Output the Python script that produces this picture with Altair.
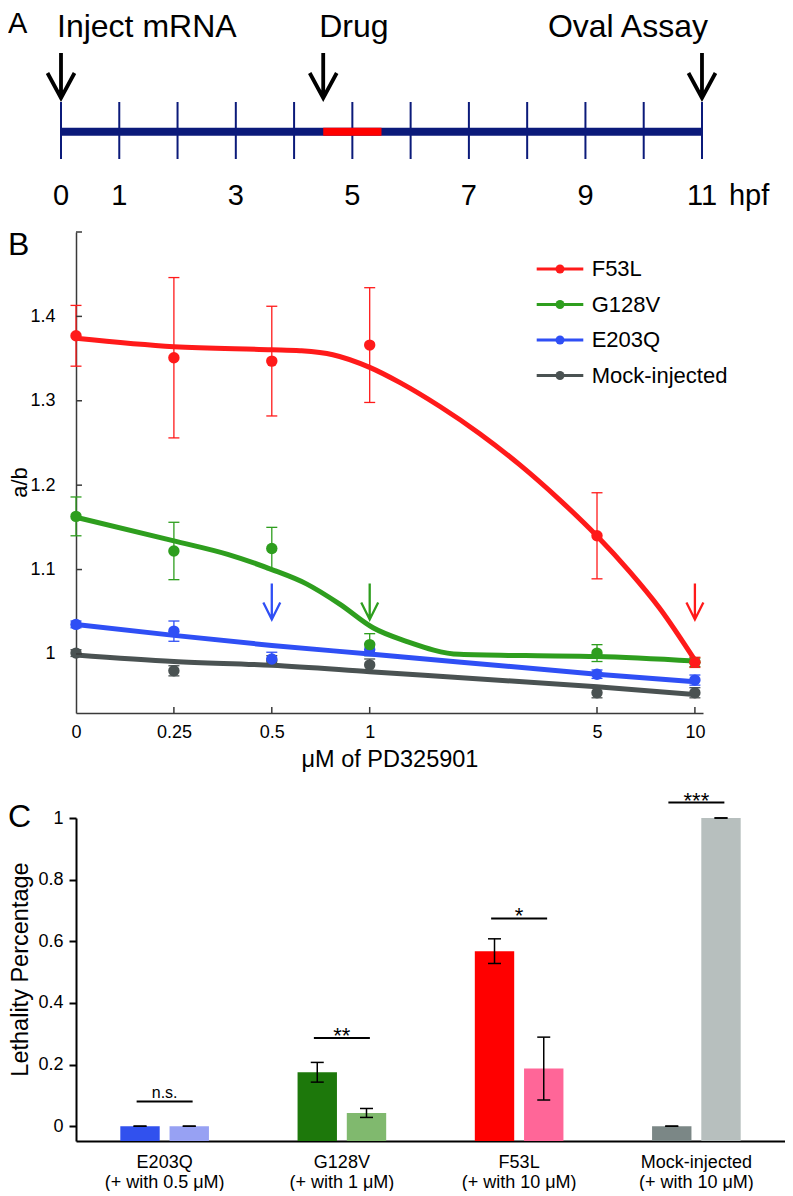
import altair as alt
import pandas as pd

FONT = "Liberation Sans"

# ---------------- Panel A: timeline ----------------
tick_hours = [0, 1, 2, 3, 4, 5, 6, 7, 8, 9, 10, 11]
label_hours = [0, 1, 3, 5, 7, 9, 11]
timeline_span = [0, 11]
drug_window = [4.5, 5.5]
events = ["Inject mRNA", "Drug", "Oval Assay"]
event_hours = [0, 4.5, 11]

# ---------------- Panel B: dose response ----------------
conc = [0, 0.25, 0.5, 1, 5, 10]
series = ["F53L", "G128V", "E203Q", "Mock-injected"]
series_colors = ["#ff1a1a", "#2e9e1e", "#2f4ff5", "#4a5252"]

f53l_mean = [1.377, 1.351, 1.347, 1.366, 1.140, 0.990]
f53l_err = [0.036, 0.095, 0.065, 0.068, 0.051, 0.006]
g128v_mean = [1.163, 1.122, 1.125, 1.011, 1.001, 0.990]
g128v_err = [0.023, 0.034, 0.025, 0.013, 0.010, 0.005]
e203q_mean = [1.035, 1.027, 0.994, 1.005, 0.976, 0.969]
e203q_err = [0.004, 0.012, 0.008, 0.007, 0.005, 0.006]
mock_mean = [1.001, 0.980, 0.992, 0.987, 0.954, 0.954]
mock_err = [0.004, 0.006, 0.006, 0.007, 0.006, 0.006]

# fitted curves
f53l_fit_x = [0, 0.25, 0.5, 0.61, 0.77, 1.0, 1.24, 1.64, 2.18, 2.89, 3.83, 5, 6.29, 7.78, 10]
f53l_fit_y = [1.374, 1.364, 1.3605, 1.3593, 1.3546, 1.3396, 1.3215, 1.2935, 1.261, 1.2243,
              1.1829, 1.1397, 1.0978, 1.0544, 0.9926]
g128v_fit_x = [0, 0.25, 0.366, 0.5, 0.639, 0.809, 1.024, 1.296, 1.89, 3.01, 5, 10]
g128v_fit_y = [1.162, 1.134, 1.118, 1.100, 1.083, 1.059, 1.031, 1.015, 0.9995, 0.998, 0.997, 0.9916]
e203q_fit_x = [0, 0.25, 0.5, 1, 5, 10]
e203q_fit_y = [1.035, 1.022, 1.010, 1.000, 0.976, 0.967]
mock_fit_x = [0, 0.25, 0.5, 1, 5, 10]
mock_fit_y = [0.9987, 0.991, 0.9865, 0.979, 0.961, 0.952]

arrow_series = ["E203Q", "G128V", "F53L"]
arrow_conc = [0.5, 1, 10]

bx_ticks = [0.25, 0.5, 1, 5, 10]
by_ticks = [1, 1.1, 1.2, 1.3, 1.4, 1.5]

# ---------------- Panel C: lethality ----------------
groups = ["E203Q", "G128V", "F53L", "Mock-injected"]
doses = ["0.5", "1", "10", "10"]
conditions = ["injected", "with drug"]
lethality_injected = [0.0, 0.175, 0.568, 0.0]
err_injected = [0.0, 0.032, 0.040, 0.0]
lethality_drug = [0.0, 0.043, 0.187, 1.0]
err_drug = [0.0, 0.0145, 0.102, 0.0]
colors_injected = ["#3151ee", "#1d780b", "#ff0000", "#7b8786"]
colors_drug = ["#97a1f3", "#80b96e", "#ff6698", "#b7bfbe"]
sig_labels = ["n.s.", "**", "*", "***"]
sig_level = [0.08, 0.286, 0.674, 1.05]

# =====================================================
NAVY = "#0b1a7a"
AXC = "#3a3a3a"

# ---------- A ----------
A_W, A_H = 630, 200
ax = alt.Scale(domain=[0.2574, 11.069])
ARROW_A = "M0,-1L0,1M-0.6,-0.11L0,1L0.6,-0.11"

def XA(f):
    return alt.X(f, scale=ax, axis=None)

a_ticks = alt.Chart(pd.DataFrame({"h": tick_hours})).mark_rule(
    color=NAVY, strokeWidth=2).encode(x=XA("h:Q"), y=alt.value(94), y2=alt.value(151))
a_line = alt.Chart(pd.DataFrame({"s": [timeline_span[0]], "e": [timeline_span[1]]})).mark_rule(
    color=NAVY, strokeWidth=8).encode(x=XA("s:Q"), x2="e:Q", y=alt.value(123.7))
a_drug = alt.Chart(pd.DataFrame({"s": [drug_window[0]], "e": [drug_window[1]]})).mark_rule(
    color="#ff0000", strokeWidth=8).encode(x=XA("s:Q"), x2="e:Q", y=alt.value(123.7))
ev_df = pd.DataFrame({"h": event_hours, "ev": events})
a_arrows = alt.Chart(ev_df).mark_point(
    shape=ARROW_A, size=2025, filled=False, color="black", strokeWidth=3.8, opacity=1
).encode(x=XA("h:Q"), y=alt.value(67.5))
a_ev_left = alt.Chart(ev_df).transform_filter("datum.h < 10").mark_text(
    align="left", baseline="alphabetic", fontSize=32, dx=-4, color="black"
).encode(x=XA("h:Q"), y=alt.value(29), text="ev:N")
a_ev_right = alt.Chart(ev_df).transform_filter("datum.h >= 10").mark_text(
    align="right", baseline="alphabetic", fontSize=32, dx=6, color="black"
).encode(x=XA("h:Q"), y=alt.value(29), text="ev:N")
a_hlabels = alt.Chart(pd.DataFrame({"h": label_hours})).mark_text(
    align="center", baseline="middle", fontSize=29, color="black"
).encode(x=XA("h:Q"), y=alt.value(188), text=alt.Text("h:Q", format="d"))
a_hpf = alt.Chart(pd.DataFrame({"h": [11], "t": ["hpf"]})).mark_text(
    align="left", baseline="middle", fontSize=29, dx=27, color="black"
).encode(x=XA("h:Q"), y=alt.value(188), text="t:N")
a_letter = alt.Chart(pd.DataFrame({"t": ["A"]})).mark_text(
    align="left", baseline="alphabetic", fontSize=29, color="black"
).encode(x=alt.value(-68), y=alt.value(25), text="t:N")

panelA = alt.layer(a_ticks, a_line, a_drug, a_arrows, a_ev_left, a_ev_right,
                   a_hlabels, a_hpf, a_letter).properties(width=A_W, height=A_H)

# ---------- B ----------
B_W, B_H = 627, 481
bx = alt.Scale(type="log", base=2, domain=[0.125, 10.59])
by = alt.Scale(domain=[0.93, 1.5])
color_b = alt.Scale(domain=series, range=series_colors)

axBx = alt.Axis(values=[0.125, 0.25, 0.5, 1, 5, 10],
                labelExpr="datum.value < 0.2 ? '0' : format(datum.value, '~g')",
                title="μM of PD325901", ticks=False, tickSize=0, labelPadding=10,
                labelFontSize=18, titleFontSize=23.5, titleY=46, titleBaseline="middle",
                domainColor=AXC, domainWidth=1.5, labelColor="black", titleColor="black",
                labelFlush=False, grid=False)
axBy = alt.Axis(values=[1, 1.1, 1.2, 1.3, 1.4],
                labelExpr="format(datum.value, '~g')",
                title="a/b", ticks=False, tickSize=0, labelPadding=21,
                labelFontSize=18, titleFontSize=22, titleX=-57, titleY=250,
                titleBaseline="middle", titleAlign="center",
                domainColor=AXC, domainWidth=1.5, labelColor="black", titleColor="black",
                labelFlush=False, grid=False)

def XB(f):
    return alt.X(f, scale=bx, axis=axBx, title="μM of PD325901")

def YB(f):
    return alt.Y(f, scale=by, axis=axBy, title="a/b")

means = [f53l_mean, g128v_mean, e203q_mean, mock_mean]
errs = [f53l_err, g128v_err, e203q_err, mock_err]
fits = [(f53l_fit_x, f53l_fit_y), (g128v_fit_x, g128v_fit_y),
        (e203q_fit_x, e203q_fit_y), (mock_fit_x, mock_fit_y)]

pt_rows, fit_rows = [], []
for k in reversed(range(len(series))):
    for c, m, e in zip(conc, means[k], errs[k]):
        pt_rows.append({"series": series[k], "conc": c, "mean": m, "lo": m - e, "hi": m + e})
    for c, v in zip(*fits[k]):
        fit_rows.append({"series": series[k], "conc": c, "fit": v})
pt_df = pd.DataFrame(pt_rows)
fit_df = pd.DataFrame(fit_rows)
XPOS = "datum.conc == 0 ? 0.125 : datum.conc"

def CB():
    return alt.Color("series:N", scale=color_b, legend=None)

b_err = alt.Chart(pt_df).transform_calculate(xpos=XPOS).mark_rule(strokeWidth=1.3).encode(
    x=XB("xpos:Q"), y=YB("lo:Q"), y2="hi:Q", color=CB())
b_cap_lo = alt.Chart(pt_df).transform_calculate(xpos=XPOS).mark_tick(
    orient="horizontal", size=11, thickness=1.3, opacity=1).encode(
    x=XB("xpos:Q"), y=YB("lo:Q"), color=CB())
b_cap_hi = alt.Chart(pt_df).transform_calculate(xpos=XPOS).mark_tick(
    orient="horizontal", size=11, thickness=1.3, opacity=1).encode(
    x=XB("xpos:Q"), y=YB("hi:Q"), color=CB())
b_fit = alt.Chart(fit_df).transform_calculate(xpos=XPOS).mark_line(
    strokeWidth=5, interpolate="monotone").encode(
    x=XB("xpos:Q"), y=YB("fit:Q"),
    color=CB(), detail="series:N", order="xpos:Q")
b_pts = alt.Chart(pt_df).transform_calculate(xpos=XPOS).mark_circle(size=130, opacity=1).encode(
    x=XB("xpos:Q"), y=YB("mean:Q"), color=CB())

ARROW_B = "M0,-1L0,1M-0.47,0.06L0,1L0.47,0.06"
b_arrows = alt.Chart(pd.DataFrame({"series": arrow_series, "conc": arrow_conc})).mark_point(
    shape=ARROW_B, size=1296, filled=False, strokeWidth=2.3, opacity=1).encode(
    x=XB("conc:Q"), y=alt.value(369.5), color=CB())

b_xt = alt.Chart(pd.DataFrame({"t": bx_ticks})).mark_rule(color=AXC, strokeWidth=1.5).encode(
    x=XB("t:Q"), y=alt.value(B_H), y2=alt.value(B_H - 6))
b_yt = alt.Chart(pd.DataFrame({"t": by_ticks})).mark_rule(color=AXC, strokeWidth=1.5).encode(
    y=YB("t:Q"), x=alt.value(0), x2=alt.value(6))

b_letter = alt.Chart(pd.DataFrame({"t": ["B"]})).mark_text(
    align="left", baseline="alphabetic", fontSize=32, color="black"
).encode(x=alt.value(-68), y=alt.value(23), text="t:N")

legend_layers = []
for i, (s, col) in enumerate(zip(series, series_colors)):
    yy = 37 + 35.5 * i
    ldf = pd.DataFrame({"series": [s]})
    legend_layers.append(alt.Chart(ldf).mark_rule(color=col, strokeWidth=3).encode(
        x=alt.value(460.7), x2=alt.value(507.3), y=alt.value(yy)))
    legend_layers.append(alt.Chart(ldf).mark_circle(color=col, size=80, opacity=1).encode(
        x=alt.value(484), y=alt.value(yy)))
    legend_layers.append(alt.Chart(ldf).mark_text(
        align="left", baseline="middle", fontSize=22, color="black").encode(
        x=alt.value(515.7), y=alt.value(yy), text="series:N"))

panelB = alt.layer(b_err, b_cap_lo, b_cap_hi, b_fit, b_pts, b_arrows, b_xt, b_yt,
                   b_letter, *legend_layers).properties(width=B_W, height=B_H)

# ---------- C ----------
C_W, C_H = 709, 323
C_FLOOR = -0.048
cy = alt.Scale(domain=[C_FLOOR, 1])
cx = alt.Scale(paddingInner=0.5, paddingOuter=0.25)
glabels = [f"{g}|(+ with {d} μM)" for g, d in zip(groups, doses)]

c_rows = []
keys, key_cols = [], []
for i, g in enumerate(groups):
    for cond, vals, es, cols in ((conditions[0], lethality_injected, err_injected, colors_injected),
                                 (conditions[1], lethality_drug, err_drug, colors_drug)):
        key = f"{g} {cond}"
        keys.append(key)
        key_cols.append(cols[i])
        c_rows.append({"glabel": glabels[i], "cond": cond, "key": key, "value": vals[i],
                       "lo": vals[i] - es[i], "hi": vals[i] + es[i]})
c_df = pd.DataFrame(c_rows)
sig_df = pd.DataFrame({"glabel": glabels, "sig": sig_labels, "level": sig_level})

axCx = alt.Axis(title=None, labelExpr="split(datum.label, '|')", labelAngle=0, ticks=False,
                tickSize=0, labelPadding=12, labelFontSize=18, labelLineHeight=20,
                domainColor="black", domainWidth=2, labelColor="black", grid=False)
axCy = alt.Axis(values=[0, 0.2, 0.4, 0.6, 0.8, 1], labelExpr="format(datum.value, '~g')",
                title="Lethality Percentage", titleFontSize=23.5, titleX=-56, titleY=151,
                titleBaseline="middle", titleAlign="center",
                tickSize=7, tickWidth=2, tickColor="black", domainColor="black", domainWidth=2,
                labelPadding=6, labelFontSize=18, labelColor="black", titleColor="black",
                labelFlush=False, grid=False)

def XC():
    return alt.X("glabel:N", sort=glabels, scale=cx, axis=axCx, title=None)

def YC(f):
    return alt.Y(f, scale=cy, axis=axCy, title="Lethality Percentage")

def XO():
    return alt.XOffset("cond:N", sort=conditions, scale=alt.Scale(paddingInner=0.2, paddingOuter=0))

c_bars = alt.Chart(c_df).mark_bar().encode(
    x=XC(), xOffset=XO(),
    y=YC("value:Q"), y2=alt.datum(C_FLOOR),
    color=alt.Color("key:N", scale=alt.Scale(domain=keys, range=key_cols), legend=None))
c_err = alt.Chart(c_df).mark_rule(color="black", strokeWidth=1.5).encode(
    x=XC(), xOffset=XO(), y=YC("lo:Q"), y2="hi:Q")
c_cap_lo = alt.Chart(c_df).mark_tick(orient="horizontal", size=13, thickness=1.5,
                                     color="black", opacity=1).encode(
    x=XC(), xOffset=XO(), y=YC("lo:Q"))
c_cap_hi = alt.Chart(c_df).mark_tick(orient="horizontal", size=13, thickness=1.5,
                                     color="black", opacity=1).encode(
    x=XC(), xOffset=XO(), y=YC("hi:Q"))
c_sig = alt.Chart(sig_df).mark_tick(orient="horizontal", size=56, thickness=2,
                                    color="black", opacity=1).encode(
    x=XC(), y=YC("level:Q"))
c_ns = alt.Chart(sig_df).transform_filter("datum.sig == 'n.s.'").mark_text(
    baseline="alphabetic", fontSize=16, dy=-4, color="black").encode(
    x=XC(), y=YC("level:Q"), text="sig:N")
c_stars = alt.Chart(sig_df).transform_filter("datum.sig != 'n.s.'").mark_text(
    baseline="alphabetic", fontSize=22, dy=5, color="black").encode(
    x=XC(), y=YC("level:Q"), text="sig:N")
c_letter = alt.Chart(pd.DataFrame({"t": ["C"]})).mark_text(
    align="left", baseline="alphabetic", fontSize=32, color="black"
).encode(x=alt.value(-68), y=alt.value(9), text="t:N")

panelC = alt.layer(c_bars, c_err, c_cap_lo, c_cap_hi, c_sig, c_ns, c_stars, c_letter).properties(
    width=C_W, height=C_H)

chart = alt.vconcat(panelA, panelB, panelC, spacing=18).resolve_scale(
    color="independent"
).properties(padding=0).configure(font=FONT).configure_view(stroke=None).configure_axis(
    grid=False, labelFont=FONT, titleFont=FONT, titleFontWeight="normal")

chart.save("out.html", embed_options={"renderer": "svg", "actions": False})
